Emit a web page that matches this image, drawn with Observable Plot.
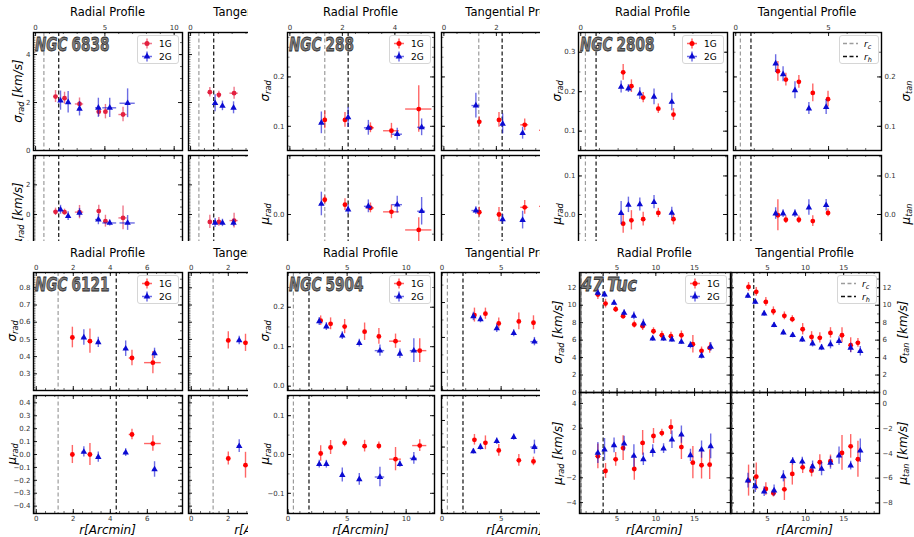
<!DOCTYPE html>
<html>
<head>
<meta charset="utf-8">
<script src="https://cdn.jsdelivr.net/npm/d3@7"></script>
<script src="https://cdn.jsdelivr.net/npm/@observablehq/plot@0.6"></script>
<style>
html,body{margin:0;padding:0;background:#fff;}
#root{position:relative;width:914px;height:537px;overflow:hidden;font-family:"DejaVu Sans",sans-serif;color:#000;}
.t{position:absolute;white-space:nowrap;line-height:1;}
.t .sb{font-size:68%;position:relative;top:0.22em;}
</style>
</head>
<body>
<div id="root"></div>
<script>
// ================= DATA =================
// each row: [r (arcmin), r error, sigma, sigma error, mu, mu error]
const ngc6838_rad_1G = [[1.44,0.1,2.25,0.25,0.18,0.25],[2.09,0.1,2.18,0.25,0.16,0.2],[3.17,0.3,1.94,0.25,0.16,0.45],[4.56,0.1,1.62,0.2,0.23,0.4],[5.04,0.1,1.62,0.3,-0.45,0.4],[6.31,0.3,1.5,0.3,-0.23,0.8]];
const ngc6838_rad_2G = [[1.8,0.1,2.08,0.4,0.32,0.3],[2.35,0.1,2.01,0.45,-0.11,0.3],[3.17,0.1,1.74,0.3,0.11,0.3],[4.53,0.2,1.78,0.4,-0.34,0.35],[5.35,0.5,1.78,0.4,-0.57,0.2],[6.64,0.55,1.97,0.6,-0.57,0.5]];
const ngc6838_tan_1G = [[1.39,0.1,2.43,0.2,-0.5,0.45],[2.04,0.1,2.32,0.15,-0.5,0.3],[3.14,0.3,2.39,0.25,-0.41,0.5]];
const ngc6838_tan_2G = [[1.77,0.1,1.97,0.35,-0.57,0.3],[2.3,0.1,1.86,0.2,-0.57,0.25],[3.1,0.1,1.78,0.25,-0.57,0.25]];

const ngc288_rad_1G = [[1.33,0.06,0.113,0.018,0.015,0.004],[2.1,0.06,0.113,0.015,0.010,0.006],[3.07,0.15,0.097,0.01,0.0067,0.005],[3.87,0.3,0.091,0.015,0.0027,0.007],[4.91,0.5,0.135,0.047,-0.0157,0.0125]];
const ngc288_rad_2G = [[1.2,0.06,0.107,0.022,0.0107,0.012],[2.22,0.06,0.118,0.02,0.005,0.005],[2.99,0.15,0.097,0.015,0.0083,0.0065],[4.09,0.2,0.084,0.012,0.010,0.0085],[5.02,0.15,0.098,0.017,0.0033,0.014]];
const ngc288_tan_1G = [[1.35,0.06,0.109,0.01,0.0023,0.005],[2.1,0.06,0.113,0.015,0.0,0.007],[3.08,0.15,0.103,0.012,0.0073,0.007],[3.75,0.1,0.092,0.01,0.0083,0.007]];
const ngc288_tan_2G = [[1.22,0.15,0.142,0.025,0.004,0.004],[2.24,0.06,0.105,0.02,-0.005,0.005],[3.0,0.06,0.086,0.012,-0.0057,0.009]];

const ngc2808_rad_1G = [[2.27,0.05,0.249,0.02,-0.0237,0.025],[2.71,0.05,0.214,0.016,-0.015,0.025],[3.34,0.05,0.185,0.013,-0.012,0.018],[4.15,0.05,0.157,0.012,0.004,0.012],[4.96,0.05,0.142,0.015,-0.012,0.015]];
const ngc2808_rad_2G = [[2.16,0.05,0.212,0.015,0.0034,0.03],[2.55,0.05,0.208,0.01,0.025,0.02],[3.16,0.05,0.195,0.015,0.026,0.017],[3.92,0.05,0.187,0.02,0.032,0.017],[4.87,0.05,0.174,0.022,0.004,0.015]];
const ngc2808_tan_1G = [[2.27,0.05,0.2115,0.02,-0.002,0.04],[2.7,0.05,0.1946,0.013,-0.0136,0.01],[3.4,0.05,0.19,0.013,-0.0136,0.01],[4.15,0.05,0.1676,0.018,-0.017,0.014],[4.97,0.05,0.155,0.016,0.004,0.01]];
const ngc2808_tan_2G = [[2.15,0.05,0.227,0.018,0.0025,0.015],[2.55,0.05,0.2054,0.015,0.0025,0.01],[3.19,0.05,0.173,0.017,0.0025,0.01],[3.94,0.05,0.136,0.012,0.018,0.02],[4.87,0.05,0.139,0.015,0.024,0.015]];

const ngc6121_rad_1G = [[1.95,0.1,0.511,0.06,0.0,0.07],[2.9,0.1,0.49,0.07,0.0,0.085],[5.17,0.15,0.392,0.045,0.155,0.04],[6.3,0.45,0.365,0.065,0.085,0.06]];
const ngc6121_rad_2G = [[2.57,0.1,0.511,0.045,0.02,0.04],[3.35,0.1,0.483,0.03,-0.02,0.04],[4.83,0.1,0.446,0.045,0.015,0.03],[6.39,0.1,0.419,0.03,-0.116,0.06]];
const ngc6121_tan_1G = [[2.0,0.1,0.494,0.05,-0.031,0.05],[2.93,0.1,0.48,0.05,-0.083,0.1]];
const ngc6121_tan_2G = [[2.59,0.1,0.494,0.025,0.065,0.05]];

const ngc5904_rad_1G = [[2.76,0.1,0.166,0.012,0.0026,0.02],[3.6,0.1,0.158,0.015,0.018,0.018],[4.79,0.1,0.151,0.018,0.03,0.01],[6.48,0.1,0.138,0.022,0.0215,0.015],[7.69,0.1,0.126,0.02,0.022,0.01],[9.1,0.5,0.114,0.018,-0.012,0.03],[11.15,0.6,0.09,0.03,0.023,0.015]];
const ngc5904_rad_2G = [[2.64,0.1,0.164,0.01,-0.025,0.01],[3.24,0.1,0.151,0.01,-0.025,0.01],[4.59,0.1,0.128,0.01,-0.053,0.018],[6.03,0.1,0.109,0.01,-0.064,0.015],[7.78,0.4,0.09,0.014,-0.058,0.025],[9.47,0.1,0.082,0.012,-0.025,0.008],[10.65,0.3,0.09,0.03,-0.010,0.015]];
const ngc5904_tan_1G = [[2.74,0.1,0.182,0.01,0.0137,0.01],[3.67,0.1,0.184,0.008,0.008,0.013],[4.8,0.1,0.170,0.008,-0.0064,0.011],[6.5,0.1,0.173,0.012,-0.025,0.011],[7.74,0.1,0.171,0.01,-0.027,0.008]];
const ngc5904_tan_2G = [[2.65,0.1,0.180,0.006,-0.0082,0.005],[3.25,0.1,0.176,0.005,0.0,0.006],[4.63,0.1,0.163,0.006,0.011,0.006],[6.07,0.1,0.156,0.005,0.0187,0.006],[7.82,0.3,0.144,0.006,0.0,0.013]];

const tuc47_rad_1G = [[2.52,0.25,11.22,0.55,-0.27,1.0],[3.51,0.25,10.19,0.5,-1.45,0.6],[4.82,0.25,9.54,0.35,-0.51,0.55],[5.78,0.25,8.74,0.35,0.4,1.0],[7.22,0.25,7.79,0.4,-1.29,0.9],[8.3,0.25,7.6,0.5,0.81,1.0],[9.7,0.25,7.02,0.4,1.37,0.6],[10.78,0.25,6.56,0.45,1.61,0.3],[11.95,0.25,6.45,0.45,2.09,0.6],[13.3,0.25,6.56,0.5,0.48,1.0],[14.78,0.25,5.53,1.0,-0.78,1.3],[15.9,0.25,4.77,0.45,-0.99,1.1],[16.95,0.25,5.11,0.6,-0.94,1.2]];
const tuc47_rad_2G = [[2.52,0.25,11.41,0.35,0.0,0.85],[3.38,0.25,11.22,0.35,0.27,0.9],[4.61,0.25,10.27,0.3,0.62,0.6],[5.91,0.25,9.12,0.35,0.75,0.6],[7.17,0.25,8.78,0.45,-0.24,0.9],[8.39,0.25,7.9,0.5,-0.51,0.5],[9.6,0.25,6.18,0.3,0.16,0.5],[11.0,0.25,6.18,0.35,0.35,0.4],[12.08,0.25,6.07,0.3,1.07,0.7],[13.3,0.25,5.8,0.3,1.48,0.7],[14.47,0.25,5.42,0.4,-0.19,0.5],[15.9,0.25,4.2,0.35,0.27,0.7],[17.08,0.25,5.23,0.5,0.54,1.0]];
const tuc47_tan_1G = [[2.52,0.25,12.1,0.5,-6.2,1.25],[3.53,0.25,11.53,0.5,-5.88,1.1],[4.79,0.25,10.38,0.5,-6.87,0.5],[5.78,0.25,9.31,0.5,-7.22,0.3],[7.22,0.25,8.78,0.45,-6.9,0.9],[8.26,0.25,8.4,0.4,-5.66,0.9],[9.62,0.25,7.25,0.65,-5.13,0.5],[10.79,0.25,6.37,0.6,-5.4,0.5],[11.87,0.25,6.26,0.6,-4.72,0.6],[13.27,0.25,6.83,0.6,-4.64,0.5],[14.78,0.25,6.56,0.85,-3.97,1.4],[15.92,0.25,5.42,0.85,-3.44,0.95],[16.87,0.25,5.69,0.5,-4.48,1.45]];
const tuc47_tan_2G = [[2.44,0.25,11.07,0.3,-6.2,0.6],[3.4,0.25,10.38,0.3,-6.66,0.5],[4.57,0.25,9.05,0.3,-7.09,0.4],[5.87,0.25,7.71,0.3,-7.0,0.45],[7.09,0.25,6.87,0.3,-5.85,0.45],[8.31,0.25,6.56,0.3,-4.64,0.3],[9.57,0.25,6.07,0.35,-4.67,0.35],[10.92,0.25,5.61,0.4,-5.07,0.45],[12.1,0.25,5.15,0.35,-5.26,0.55],[13.27,0.25,5.5,0.5,-4.78,0.5],[14.39,0.25,5.88,0.5,-4.19,0.7],[15.92,0.25,5.11,0.55,-4.99,0.35],[17.18,0.25,4.73,0.55,-3.79,0.95]];

const clusterPrefix = ["NGC", "NGC", "NGC", "NGC", "NGC", "47"];
const clusterIds = ["6838", "288", "2808", "6121", "5904", "Tuc"];
const coreRadius = [0.6, 1.33, 0.25, 1.18, 0.45, 0.36];      // r_c (arcmin)
const halfLightRadius = [1.67, 2.22, 0.82, 4.32, 1.77, 3.2]; // r_h (arcmin)
const popLabels = ["1G", "2G"];
const titles = ["Radial Profile", "Tangential Profile"];
const xLabel = "r[Arcmin]";

// ================= LAYOUT =================
const BLUE = "#0b0bd2";
const root = document.getElementById("root");
const SVGNS = "http://www.w3.org/2000/svg";

function addDiv(css, html) {
  const d = document.createElement("div");
  d.className = "t";
  Object.assign(d.style, css);
  if (html != null) d.innerHTML = html;
  root.appendChild(d);
  return d;
}
function centered(html, x, y, size, rot, extra = {}) {
  return addDiv(Object.assign({left: x + "px", top: y + "px", fontSize: size + "px",
    transform: `translate(-50%,-50%)${rot ? " rotate(-90deg)" : ""}`}, extra), html);
}
function addCover(x, y) {
  addDiv({left: x + "px", top: y + "px", width: (914 - x) + "px", height: (537 - y) + "px", background: "#fff"});
}
const stepTicks = (step, dom) => {
  const lo = Math.min(...dom), hi = Math.max(...dom);
  const i0 = Math.ceil(lo / step - 1e-9), i1 = Math.floor(hi / step + 1e-9);
  return d3.range(i0, i1 + 1).map(i => +(i * step).toFixed(6));
};

function panel(p) {
  const m = 22;
  const w = p.x[1] - p.x[0], h = p.y[1] - p.y[0];
  const [yd, yMajStep, yMinLStep, yMinRStep] = p.yspec;
  const xMaj = stepTicks(p.xMaj, p.xd), xMin = stepTicks(p.xMin, p.xd);
  const yMaj = stepTicks(yMajStep, yd), yMinL = stepTicks(yMinLStep, yd), yMinR = stepTicks(yMinRStep, yd);
  const k = p.vi;
  const fx = d3.format("d"), fy = d3.format(p.fmt);
  const marks = [
    Plot.ruleX([p.rc], {stroke: "#9c9c9c", strokeWidth: 1.2, strokeDasharray: "4,2.5", clip: true}),
    Plot.ruleX([p.rh], {stroke: "#111", strokeWidth: 1.2, strokeDasharray: "4,2.5", clip: true})
  ];
  const series = [[p.s1, p.red, "circle", 2.4], [p.s2, BLUE, "triangle", 2.4]];
  for (const [data, col, sym, r] of series) {
    marks.push(
      Plot.ruleX(data, {x: d => d[0], y1: d => d[k] - d[k + 1], y2: d => d[k] + d[k + 1], stroke: col, strokeOpacity: 0.6, strokeWidth: 1.4, clip: true}),
      Plot.ruleY(data, {y: d => d[k], x1: d => d[0] - d[1], x2: d => d[0] + d[1], stroke: col, strokeOpacity: 0.6, strokeWidth: 1.4, clip: true}),
      Plot.dot(data, {x: d => d[0], y: d => d[k], fill: col, r, symbol: sym, clip: true})
    );
  }
  marks.push(
    Plot.ruleX(xMin, {x: d => d, insetBottom: h - 2, stroke: "#000", strokeWidth: 0.6}),
    Plot.ruleX(xMin, {x: d => d, insetTop: h - 2, stroke: "#000", strokeWidth: 0.6}),
    Plot.ruleX(xMaj, {x: d => d, insetBottom: h - 4, stroke: "#000", strokeWidth: 0.9}),
    Plot.ruleX(xMaj, {x: d => d, insetTop: h - 4, stroke: "#000", strokeWidth: 0.9}),
    Plot.ruleY(yMinL, {y: d => d, insetRight: w - 2.5, stroke: "#000", strokeWidth: 0.5}),
    Plot.ruleY(yMinR, {y: d => d, insetLeft: w - 2, stroke: "#000", strokeWidth: 0.6}),
    Plot.ruleY(yMaj, {y: d => d, insetRight: w - 4, stroke: "#000", strokeWidth: 0.9}),
    Plot.ruleY(yMaj, {y: d => d, insetLeft: w - 4, stroke: "#000", strokeWidth: 0.9}),
    Plot.frame({stroke: "#000", strokeWidth: 1.4})
  );
  const tstyle = {fontSize: 7, fill: "#333", fontFamily: "DejaVu Sans"};
  if (p.top) marks.push(Plot.text(xMaj, {x: d => d, text: d => fx(d), frameAnchor: "top", dy: -3, lineAnchor: "bottom", ...tstyle}));
  if (p.bottom) marks.push(Plot.text(xMaj, {x: d => d, text: d => fx(d), frameAnchor: "bottom", dy: 2.5, lineAnchor: "top", ...tstyle}));
  if (p.left) marks.push(Plot.text(yMaj, {y: d => d, text: d => fy(d), frameAnchor: "left", dx: -3, textAnchor: "end", ...tstyle}));
  if (p.right) marks.push(Plot.text(yMaj, {y: d => d, text: d => fy(d), frameAnchor: "right", dx: 3, textAnchor: "start", ...tstyle}));
  const svg = Plot.plot({
    width: w + 2 * m, height: h + 2 * m, margin: m,
    x: {domain: p.xd, axis: null}, y: {domain: yd, axis: null},
    marks
  });
  Object.assign(svg.style, {position: "absolute", left: (p.x[0] - m) + "px", top: (p.y[0] - m) + "px",
    background: "transparent", overflow: "visible", maxWidth: "none"});
  root.appendChild(svg);
}

function popLegend(xr, yt, red) {
  const tri = d3.symbol(d3.symbolTriangle, Math.PI * 2.5 * 2.5)();
  addDiv({left: (xr - 42) + "px", top: yt + "px", width: "42px", height: "29px", border: "1px solid #d6d6d6",
    borderRadius: "3px", background: "rgba(255,255,255,0.85)", boxSizing: "border-box"},
    `<svg width="42" height="29" style="position:absolute;left:-1px;top:-1px;overflow:visible">
      <g stroke="${red}" stroke-opacity="0.6" stroke-width="1.5"><line x1="5" x2="15" y1="8.5" y2="8.5"/><line x1="10" x2="10" y1="3.5" y2="13.5"/></g>
      <circle cx="10" cy="8.5" r="2.5" fill="${red}"/>
      <g stroke="${BLUE}" stroke-opacity="0.6" stroke-width="1.5"><line x1="5" x2="15" y1="21.5" y2="21.5"/><line x1="10" x2="10" y1="16.5" y2="26.5"/></g>
      <path d="${tri}" transform="translate(10,21.5)" fill="${BLUE}"/>
      <text x="22" y="11.8" font-size="9" font-family="DejaVu Sans">${popLabels[0]}</text>
      <text x="22" y="24.8" font-size="9" font-family="DejaVu Sans">${popLabels[1]}</text>
    </svg>`);
}
function radiusLegend(xr, yt) {
  addDiv({left: (xr - 40) + "px", top: yt + "px", width: "40px", height: "29px", border: "1px solid #d6d6d6",
    borderRadius: "3px", background: "rgba(255,255,255,0.85)", boxSizing: "border-box"},
    `<svg width="40" height="29" style="position:absolute;left:-1px;top:-1px;overflow:visible">
      <line x1="4" x2="19" y1="8.5" y2="8.5" stroke="#9c9c9c" stroke-width="1.3" stroke-dasharray="4,2.5"/>
      <line x1="4" x2="19" y1="21.5" y2="21.5" stroke="#111" stroke-width="1.3" stroke-dasharray="4,2.5"/>
      <text x="25" y="11.5" font-size="9" font-style="italic" font-family="DejaVu Sans">r<tspan font-size="6.5" dy="2">c</tspan></text>
      <text x="25" y="24.5" font-size="9" font-style="italic" font-family="DejaVu Sans">r<tspan font-size="6.5" dy="2">h</tspan></text>
    </svg>`);
}
function clusterName(k, x, y) {
  const svg = document.createElementNS(SVGNS, "svg");
  svg.setAttribute("width", 90); svg.setAttribute("height", 24);
  Object.assign(svg.style, {position: "absolute", left: x + "px", top: y + "px", overflow: "visible"});
  root.appendChild(svg);
  const squeeze = k === 5 ? 0.8 : 0.68;
  let cx = 0;
  [[clusterPrefix[k], true], [clusterIds[k], k === 5]].forEach(([s, it], i) => {
    const t = document.createElementNS(SVGNS, "text");
    t.setAttribute("x", cx.toFixed(1)); t.setAttribute("y", 18.5);
    t.setAttribute("font-family", "DejaVu Sans"); t.setAttribute("font-size", 20); t.setAttribute("font-weight", "bold");
    if (it) t.setAttribute("font-style", "italic");
    t.setAttribute("fill", "#7c7c7c"); t.setAttribute("stroke", "#2a2a2a"); t.setAttribute("stroke-width", 0.8);
    t.textContent = s;
    svg.appendChild(t);
    const L = t.getComputedTextLength() * squeeze;
    t.setAttribute("textLength", L.toFixed(1));
    t.setAttribute("lengthAdjust", "spacingAndGlyphs");
    cx += L + 4;
  });
}
const symLab = (g, sub, units) => `<i>${g}</i><span class="sb"><i>${sub}</i></span>${units ? " <i>[km/s]</i>" : ""}`;

const figs = [
  {k: 0, cover: [0, 0], data: [ngc6838_rad_1G, ngc6838_rad_2G, ngc6838_tan_1G, ngc6838_tan_2G], red: "#e3203f",
   R: [33, 182], T: [188, 337], U: [32, 150], L: [155, 273], xd: [-0.15, 10.6], xMaj: 5, xMin: 1,
   RU: [[0, 4.92], 2, 0.1, 0.5], TU: [[0, 4.92], 2, 0.1, 0.5], RL: [[-3.98, 3.98], 2, 0.1, 0.5], TL: [[-3.98, 3.98], 2, 0.1, 0.5],
   fmt: "d", leftX: 18, units: true, rightX: null, xlab: false, radLeg: false},
  {k: 1, cover: [248, 0], data: [ngc288_rad_1G, ngc288_rad_2G, ngc288_tan_1G, ngc288_tan_2G], red: "#ff0000",
   R: [287, 434], T: [441, 588], U: [32, 150], L: [155, 273], xd: [-0.09, 5.51], xMaj: 2, xMin: 0.5,
   RU: [[0.051, 0.29], 0.1, 0.02, 0.02], TU: [[0.051, 0.29], 0.1, 0.02, 0.02], RL: [[-0.06, 0.06], 0.1, 0.02, 0.02], TL: [[-0.06, 0.06], 0.1, 0.02, 0.02],
   fmt: ".1f", leftX: 265, units: false, rightX: null, xlab: false, radLeg: false},
  {k: 2, cover: [540, 0], data: [ngc2808_rad_1G, ngc2808_rad_2G, ngc2808_tan_1G, ngc2808_tan_2G], red: "#ff0000",
   R: [578, 727], T: [733, 881], U: [32, 150], L: [155, 273], xd: [-0.12, 7.85], xMaj: 5, xMin: 1,
   RU: [[0.051, 0.35], 0.1, 0.05, 0.05], TU: [[0.051, 0.29], 0.1, 0.05, 0.05], RL: [[-0.153, 0.153], 0.1, 0.05, 0.05], TL: [[-0.153, 0.153], 0.1, 0.05, 0.05],
   fmt: ".1f", leftX: 557, units: false, rightX: 906, xlab: false, radLeg: true},
  {k: 3, cover: [0, 241], data: [ngc6121_rad_1G, ngc6121_rad_2G, ngc6121_tan_1G, ngc6121_tan_2G], red: "#ff0000",
   R: [33, 182], T: [188, 337], U: [272, 390], L: [395, 513], xd: [-0.15, 7.9], xMaj: 2, xMin: 0.5,
   RU: [[0.203, 0.889], 0.1, 0.01, 0.05], TU: [[0.203, 0.889], 0.1, 0.01, 0.05], RL: [[-0.457, 0.457], 0.1, 0.01, 0.05], TL: [[-0.457, 0.457], 0.1, 0.01, 0.05],
   fmt: ".1f", leftX: 12, units: false, rightX: null, xlab: true, radLeg: false},
  {k: 4, cover: [248, 241], data: [ngc5904_rad_1G, ngc5904_rad_2G, ngc5904_tan_1G, ngc5904_tan_2G], red: "#ff0000",
   R: [287, 434], T: [441, 588], U: [272, 390], L: [395, 513], xd: [-0.05, 12.4], xMaj: 5, xMin: 1,
   RU: [[-0.011, 0.288], 0.1, 0.05, 0.05], TU: [[0.074, 0.243], 0.05, 0.025, 0.025], RL: [[-0.152, 0.152], 0.1, 0.05, 0.05], TL: [[-0.125, 0.097], 0.05, 0.025, 0.025],
   fmt: ".1f", leftX: 265, units: false, rightX: null, xlab: true, radLeg: false},
  {k: 5, cover: [540, 241], data: [tuc47_rad_1G, tuc47_rad_2G, tuc47_tan_1G, tuc47_tan_2G], red: "#ff0000",
   R: [578.5, 730], T: [730, 879], U: [272, 392], L: [392, 513], xd: [0.15, 19.7], xMaj: 5, xMin: 1,
   RU: [[0, 13.75], 2, 0.1, 1], TU: [[0, 13.75], 2, 0.1, 1], RL: [[-4.88, 4.88], 2, 0.1, 1], TL: [[-8.85, 0.9], 2, 0.1, 1],
   fmt: "d", leftX: 558, units: true, rightX: 903, xlab: true, radLeg: true}
];

for (const f of figs) {
  addCover(f.cover[0], f.cover[1]);
  const y0 = f.cover[1];
  const rcx = (f.R[0] + f.R[1]) / 2, tcx = (f.T[0] + f.T[1]) / 2;
  centered(titles[0], rcx, y0 + 13, 11.5);
  centered(titles[1], tcx, y0 + 13, 11.5);
  const [r1, r2, t1, t2] = f.data;
  const base = {rc: coreRadius[f.k], rh: halfLightRadius[f.k], xMaj: f.xMaj, xMin: f.xMin, xd: f.xd, fmt: f.fmt, red: f.red};
  panel({...base, x: f.R, y: f.U, yspec: f.RU, s1: r1, s2: r2, vi: 2, top: true, left: true});
  panel({...base, x: f.T, y: f.U, yspec: f.TU, s1: t1, s2: t2, vi: 2, top: true, right: true});
  panel({...base, x: f.R, y: f.L, yspec: f.RL, s1: r1, s2: r2, vi: 4, bottom: true, left: true});
  panel({...base, x: f.T, y: f.L, yspec: f.TL, s1: t1, s2: t2, vi: 4, bottom: true, right: true});
  const ucy = (f.U[0] + f.U[1]) / 2, lcy = (f.L[0] + f.L[1]) / 2;
  centered(symLab("σ", "rad", f.units), f.leftX, ucy, 12, true);
  centered(symLab("μ", "rad", f.units), f.leftX, lcy, 12, true);
  if (f.rightX) {
    centered(symLab("σ", "tan", f.units), f.rightX, ucy, 12, true);
    centered(symLab("μ", "tan", f.units), f.rightX, lcy, 12, true);
  }
  if (f.xlab) {
    centered(`<i>${xLabel}</i>`, rcx, 530, 12);
    centered(`<i>${xLabel}</i>`, tcx, 530, 12);
  }
  popLegend(f.R[1] - 3, f.U[0] + 3, f.red);
  if (f.radLeg) radiusLegend(f.T[1] - 2, f.U[0] + 3);
  clusterName(f.k, f.R[0] + 2, f.U[0]);
}
</script>
</body>
</html>
